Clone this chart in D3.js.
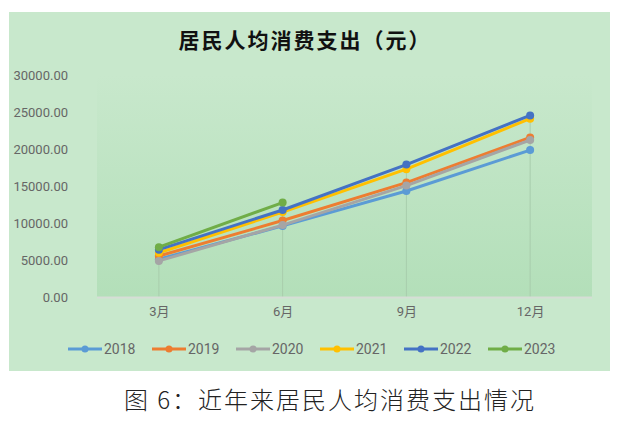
<!DOCTYPE html>
<html>
<head>
<meta charset="utf-8">
<script src="https://cdn.jsdelivr.net/npm/d3@7"></script>
<style>
  body { margin: 0; background: #fff; }
  svg text { font-family: Roboto, "Noto Sans CJK SC", sans-serif; }
</style>
</head>
<body>
<svg id="chart" width="627" height="428"></svg>
<script>
// data
var months = ["3月", "6月", "9月", "12月"];
var years = ["2018", "2019", "2020", "2021", "2022", "2023"];
var v2018 = [5109, 9609, 14331, 19853];
var v2019 = [5538, 10330, 15464, 21559];
var v2020 = [4880, 9718, 15052, 21210];
var v2021 = [5978, 11471, 17275, 24100];
var v2022 = [6393, 11756, 17900, 24538];
var v2023 = [6738, 12757];
var yTicks = [0, 5000, 10000, 15000, 20000, 25000, 30000];
var colors = ["#5b9bd5", "#ed7d31", "#a5a5a5", "#ffc000", "#4472c4", "#70ad47"];

var allValues = [v2018, v2019, v2020, v2021, v2022, v2023];
var series = years.map(function(y, i) {
    return {name: y, color: colors[i], values: allValues[i]};
});

var svg = d3.select("#chart");

var margin = {top: 75, right: 35, bottom: 131, left: 97};
var width = 627 - margin.left - margin.right,
    height = 428 - margin.top - margin.bottom;

// panel background
svg.append("rect")
    .attr("x", 9).attr("y", 12)
    .attr("width", 601).attr("height", 359)
    .attr("fill", "#c8e8cc");

var defs = svg.append("defs");
var grad = defs.append("linearGradient")
    .attr("id", "plotGrad")
    .attr("x1", 0).attr("y1", 0).attr("x2", 0).attr("y2", 1);
grad.append("stop").attr("offset", "0%").attr("stop-color", "#c8e8cc");
grad.append("stop").attr("offset", "100%").attr("stop-color", "#b3dfb9");

var g = svg.append("g")
    .attr("transform", "translate(" + margin.left + "," + margin.top + ")");

g.append("rect")
    .attr("width", width)
    .attr("height", height)
    .attr("fill", "url(#plotGrad)");

var xScale = d3.scalePoint()
    .domain(months)
    .range([0, width])
    .padding(0.5);

var yScale = d3.scaleLinear()
    .domain([0, 30000])
    .range([height, 0]);

// drop lines
g.selectAll(".drop")
    .data(months)
    .enter().append("line")
    .attr("class", "drop")
    .attr("x1", function(d) { return xScale(d); })
    .attr("x2", function(d) { return xScale(d); })
    .attr("y1", function(d, i) {
        return yScale(d3.max(series, function(s) { return s.values[i] || 0; }));
    })
    .attr("y2", height)
    .attr("stroke", "#a8cdac")
    .attr("stroke-width", 1);

// x axis
var xAxis = d3.axisBottom(xScale).tickSize(0).tickPadding(10);
var xg = g.append("g")
    .attr("transform", "translate(0," + height + ")")
    .call(xAxis);
xg.select(".domain")
    .attr("d", "M0,0.5H" + width)
    .attr("stroke", "#d6ddd6")
    .attr("stroke-width", 2);
xg.selectAll("text")
    .attr("fill", "#666")
    .style("font-size", "13px");

// y axis
var yAxis = d3.axisLeft(yScale)
    .tickValues(yTicks)
    .tickSize(0)
    .tickPadding(29)
    .tickFormat(d3.format(".2f"));
var yg = g.append("g").call(yAxis);
yg.select(".domain").remove();
yg.selectAll("text")
    .attr("fill", "#666")
    .style("font-size", "13px");

// lines
var line = d3.line()
    .x(function(d, i) { return xScale(months[i]); })
    .y(function(d) { return yScale(d); });

var sg = g.selectAll(".series")
    .data(series)
    .enter().append("g")
    .attr("class", "series");

sg.append("path")
    .attr("d", function(d) { return line(d.values); })
    .attr("fill", "none")
    .attr("stroke", function(d) { return d.color; })
    .attr("stroke-width", 3)
    .attr("stroke-linejoin", "round");

sg.selectAll("circle")
    .data(function(d) { return d.values.map(function(v, i) { return {v: v, i: i, c: d.color}; }); })
    .enter().append("circle")
    .attr("cx", function(d) { return xScale(months[d.i]); })
    .attr("cy", function(d) { return yScale(d.v); })
    .attr("r", 4)
    .attr("fill", function(d) { return d.c; });

// title
svg.append("text")
    .attr("x", 305)
    .attr("y", 48)
    .attr("text-anchor", "middle")
    .style("font-family", "'Noto Sans CJK SC', sans-serif")
    .style("font-size", "21px")
    .style("font-weight", "bold")
    .style("letter-spacing", "2px")
    .attr("fill", "#111")
    .text("居民人均消费支出（元）");

// legend
var legend = svg.append("g")
    .attr("transform", "translate(68,349)");
var li = legend.selectAll(".item")
    .data(series)
    .enter().append("g")
    .attr("transform", function(d, i) { return "translate(" + (i * 84) + ",0)"; });
li.append("line")
    .attr("x1", 0).attr("x2", 34)
    .attr("stroke", function(d) { return d.color; })
    .attr("stroke-width", 3);
li.append("circle")
    .attr("cx", 17).attr("r", 3.5)
    .attr("fill", function(d) { return d.color; });
li.append("text")
    .attr("x", 36).attr("y", 5)
    .attr("fill", "#666")
    .style("font-size", "14px")
    .text(function(d) { return d.name; });

// caption
svg.append("text")
    .attr("x", 330)
    .attr("y", 409)
    .attr("text-anchor", "middle")
    .style("font-family", "'Noto Sans CJK SC', sans-serif")
    .style("font-size", "24px")
    .style("font-weight", "300")
    .style("letter-spacing", "2px")
    .attr("fill", "#222")
    .text("图 6：近年来居民人均消费支出情况");
</script>
</body>
</html>
